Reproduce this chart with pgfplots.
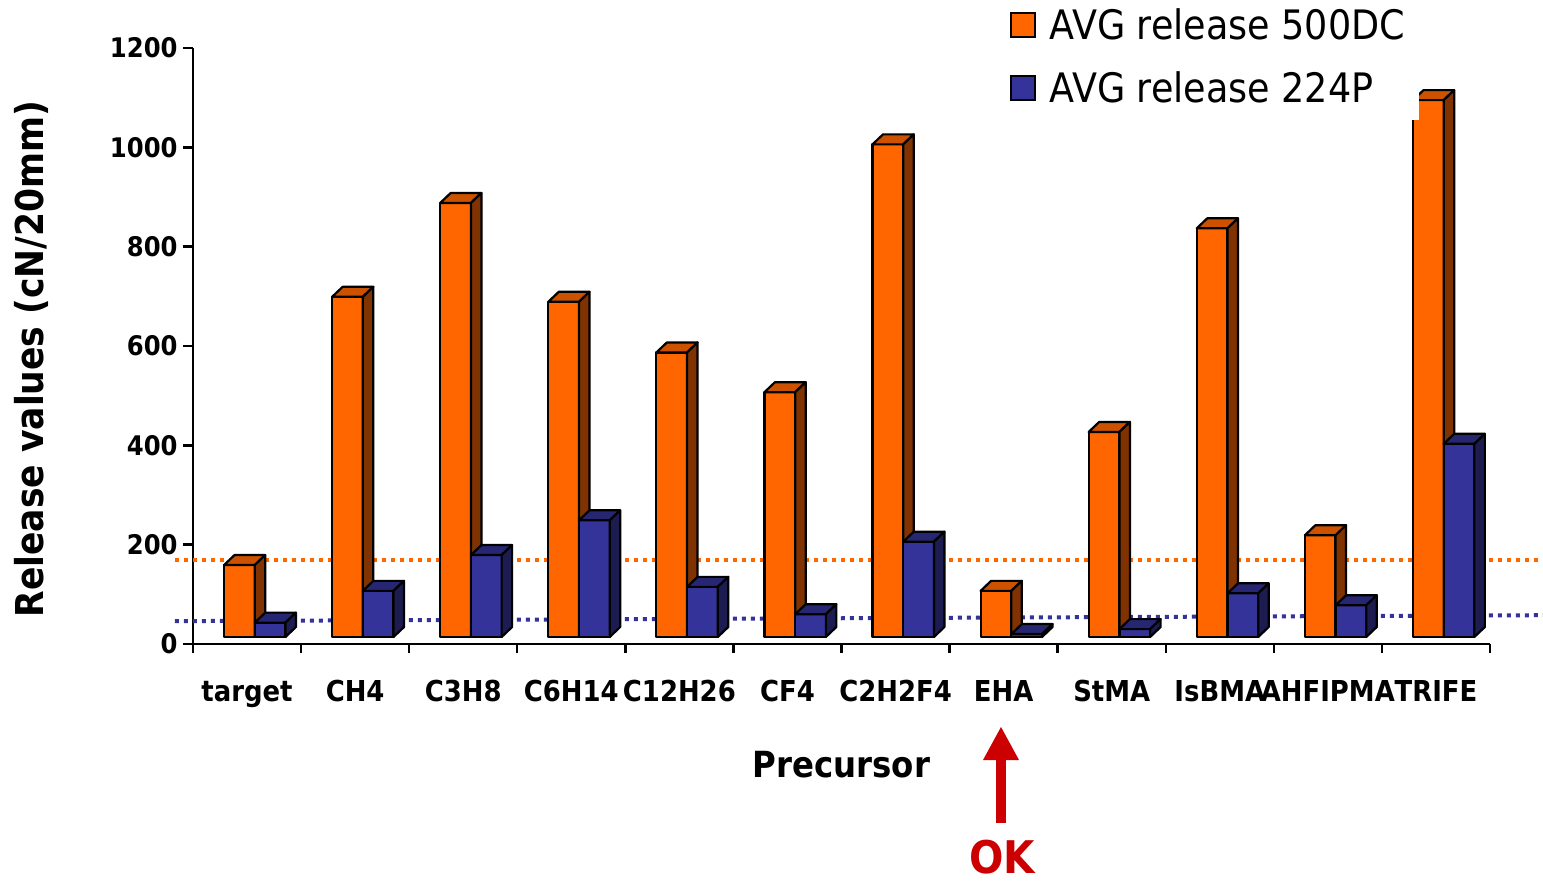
\documentclass[border=0pt]{standalone}
\usepackage{pgfplots}
\pgfplotsset{compat=1.18}
\usepackage{pgfplotstable}
\usepackage{fontspec}
\setmainfont{DejaVu Sans Condensed}
\definecolor{oF}{RGB}{255,102,0}
\definecolor{oT}{RGB}{204,82,0}
\definecolor{oS}{RGB}{128,51,0}
\definecolor{bF}{RGB}{51,51,153}
\definecolor{bT}{RGB}{38,38,115}
\definecolor{bS}{RGB}{28,28,80}
\definecolor{okred}{RGB}{204,0,0}

\pgfplotstableread{
x o b
0 159 43
1 699 107
2 888 179
3 689 249
4 587 115
5 507 60
6 1006 206
7 107 20
8 427 30
9 837 102
10 219 78
11 1095 403
}\datatable

\pgfplotstableread{
x y
-0.667 169
11.99 169
}\orefline
\pgfplotstableread{
x y
-0.667 46
11.99 58
}\brefline

% #1 left, #2 right (pt, relative to category centre), #3 front, #4 top, #5 side
\newcommand{\barbox}[5]{%
  \pgfmathsetmacro\yb{3.5-\rawy*0.2483333}%
  \pgfmathsetmacro\Rd{#2+5.25}%
  \pgfmathsetmacro\Ld{#1+5.25}%
  \pgfmathsetmacro\ybd{\yb+5}%
  \filldraw[fill=#3, draw=black, line width=1.1pt, line join=round] (#1pt,\yb pt) rectangle (#2pt,0pt);
  \filldraw[fill=#4, draw=black, line width=1.1pt, line join=round] (#1pt,0pt) -- (\Ld pt,5pt) -- (\Rd pt,5pt) -- (#2pt,0pt) -- cycle;
  \filldraw[fill=#5, draw=black, line width=1.1pt, line join=round] (#2pt,\yb pt) -- (\Rd pt,\ybd pt) -- (\Rd pt,5pt) -- (#2pt,0pt) -- cycle;
}

\begin{document}
\begin{tikzpicture}
\useasboundingbox (0,0) rectangle (771.5pt,442.5pt);
\begin{axis}[
  at={(96.5pt,120.5pt)}, anchor=south west,
  scale only axis, width=648.5pt, height=298pt,
  xmin=-0.5, xmax=11.5, ymin=0, ymax=1200,
  clip=false,
  axis x line*=bottom, axis y line*=left,
  axis line style={line width=1.2pt, -},
  xtick={0,...,11},
  xticklabels={target,CH4,C3H8,C6H14,C12H26,CF4,C2H2F4,EHA,StMA,IsBMA,AHFIPMA,TRIFE},
  minor xtick={-0.5,0.5,...,11.5},
  major x tick style={draw=none},
  minor x tick style={line width=1.2pt, black},
  ytick={0,200,...,1200},
  y tick style={line width=1.2pt, black},
  tick align=outside,
  major tick length=5pt, minor tick length=4.5pt,
  /pgf/number format/assume math mode=true,
  /pgf/number format/1000 sep={},
  xticklabel style={font=\bfseries\fontsize{14.4}{17}\selectfont, anchor=base, yshift=-23.5pt},
  yticklabel style={font=\bfseries\fontsize{13.5}{16}\selectfont, anchor=east, inner xsep=0pt, xshift=-2.5pt},
  xlabel={Precursor},
  xlabel style={at={(axis description cs:0.5,-0.203)}, anchor=center, font=\bfseries\fontsize{18}{22}\selectfont},
  ylabel={Release values (cN/20mm)},
  ylabel style={at={(axis description cs:-0.1249,0.478)}, anchor=center, font=\bfseries\fontsize{19.2}{23}\selectfont},
  legend style={at={(axis description cs:0.9453,0.8792)}, anchor=south east, draw=none, fill=white,
    font=\fontsize{20.3}{24}\selectfont, inner xsep=4.8pt, inner ysep=6.3pt, row sep=12.7pt, column sep=5pt,
    nodes={text height=15pt, text depth=0pt}},
  legend cell align=left,
  legend image code/.code={\filldraw[#1, draw=black, line width=1pt] (0pt,-6pt) rectangle (11.75pt,6pt);},
]
\addlegendimage{fill=oF}
\addlegendentry{AVG release 500DC}
\addlegendimage{fill=bF}
\addlegendentry{AVG release 224P}

\addplot[forget plot, only marks, mark=*, mark size=0pt, mark options={draw=none,fill=none},
  scatter, visualization depends on={y \as \rawy},
  scatter/@pre marker code/.code={\barbox{-11.5}{3.85}{oF}{oT}{oS}},
  scatter/@post marker code/.code={}]
  table[x=x, y=o] {\datatable};
\addplot[forget plot, only marks, mark=*, mark size=0pt, mark options={draw=none,fill=none},
  scatter, visualization depends on={y \as \rawy},
  scatter/@pre marker code/.code={\barbox{3.85}{19.2}{bF}{bT}{bS}},
  scatter/@post marker code/.code={}]
  table[x=x, y=b] {\datatable};

\addplot[forget plot, oF, line width=2pt, dash pattern=on 2pt off 2.5pt] table {\orefline};
\addplot[forget plot, bF, line width=2pt, dash pattern=on 2pt off 2.5pt] table {\brefline};
\end{axis}
% annotation arrow and OK
\fill[okred] (498pt,31pt) rectangle (503pt,63pt);
\fill[okred] (491.5pt,62.5pt) -- (509.5pt,62.5pt) -- (500.5pt,79pt) -- cycle;
\node[okred, font=\bfseries\fontsize{22.5}{27}\selectfont, anchor=center, inner sep=0pt] at (501pt,14pt) {OK};
\end{tikzpicture}
\end{document}
